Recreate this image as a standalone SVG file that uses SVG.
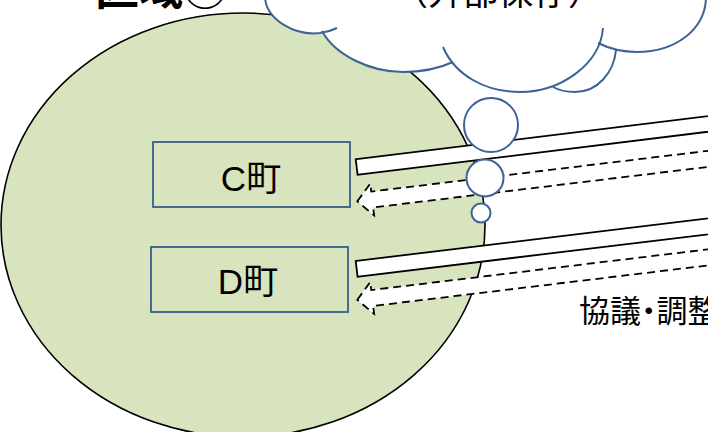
<svg xmlns="http://www.w3.org/2000/svg" width="708" height="432" viewBox="0 0 708 432">
<style>
.jp{font-family:"Liberation Sans","Noto Sans CJK JP",sans-serif;fill:#000}
.palt{font-feature-settings:"palt" 1}
.box{fill:none;stroke:#385D8A;stroke-width:1.8}
.bar{fill:#fff;stroke:#000;stroke-width:1.8}
.dash{fill:#fff;stroke:#000;stroke-width:1.8;stroke-dasharray:8 5}
.cf{fill:#fff;stroke:none}
.cs{fill:none;stroke:#3B6396;stroke-width:2}
.bub{fill:#fff;stroke:#3B6396;stroke-width:2}
</style>
<rect width="708" height="432" fill="#fff"/>
<g id="region">
<ellipse cx="243" cy="225" rx="242" ry="212" fill="#D7E4BD" stroke="#000" stroke-width="1.6"/>
</g>
<g id="title">
<text class="jp" x="95" y="5" font-size="44" font-weight="bold">区域②</text>
</g>
<g id="node-c">
<rect class="box" x="153" y="142" width="197" height="65"/>
<text class="jp" x="251" y="191" font-size="35" text-anchor="middle">C町</text>
</g>
<g id="node-d">
<rect class="box" x="151" y="247" width="197" height="65"/>
<text class="jp" x="248" y="294" font-size="35" text-anchor="middle">D町</text>
</g>
<g id="connectors">
<rect class="bar" x="0" y="0" width="420" height="15.6" transform="translate(355.7,159.3) rotate(-7)"/>
<path class="dash" d="M0,0 L15,-16 L15,-8 L420,-8 L420,8 L15,8 L15,16 Z" transform="translate(357.3,201.3) rotate(-6.9)"/>
<rect class="bar" x="0" y="0" width="420" height="15.8" transform="translate(355.7,261) rotate(-6.9)"/>
<path class="dash" d="M0,0 L15,-16 L15,-8 L420,-8 L420,8 L15,8 L15,16 Z" transform="translate(357.3,299.8) rotate(-6.9)"/>
</g>
<g id="label-kyogi">
<text class="jp palt" x="579" y="321.5" font-size="31">協議・調整</text>
</g>
<g id="cloud">
<path class="cf" d="M265,-2 C267,20 295,36 320,33 C327,32 333,30 337,28 L337,-2 Z"/>
<path class="cf" d="M322,31 C335,55 370,72 403,72 C425,72 440,68 453,62 L453,-2 L322,-2 Z"/>
<path class="cf" d="M443,47 C455,75 485,92 520,92 C560,92 600,65 603,28 L603,-2 L443,-2 Z"/>
<path class="cf" d="M553,87 C560,91 567,92 575,92 C598,92 614,72 616,50 L616,-2 L553,-2 Z"/>
<path class="cf" d="M598,43 C610,49 623,52 637,52 C675,52 705,30 706,-2 L598,-2 Z"/>
<path class="cs" d="M265,-2 C267,20 295,36 320,33 C327,32 333,30 337,28"/>
<path class="cs" d="M322,31 C335,55 370,72 403,72 C425,72 440,68 453,62"/>
<path class="cs" d="M443,47 C455,75 485,92 520,92 C560,92 600,65 603,28"/>
<path class="cs" d="M553,87 C560,91 567,92 575,92 C598,92 614,72 616,50"/>
<path class="cs" d="M598,43 C610,49 623,52 637,52 C675,52 705,30 706,-2"/>
<text class="jp" x="393" y="5" font-size="35">（外部保存）</text>
</g>
<g id="bubbles">
<circle class="bub" cx="491" cy="125" r="27"/>
<circle class="bub" cx="485" cy="178" r="18.5"/>
<circle class="bub" cx="481" cy="213" r="9.5"/>
</g>
</svg>
